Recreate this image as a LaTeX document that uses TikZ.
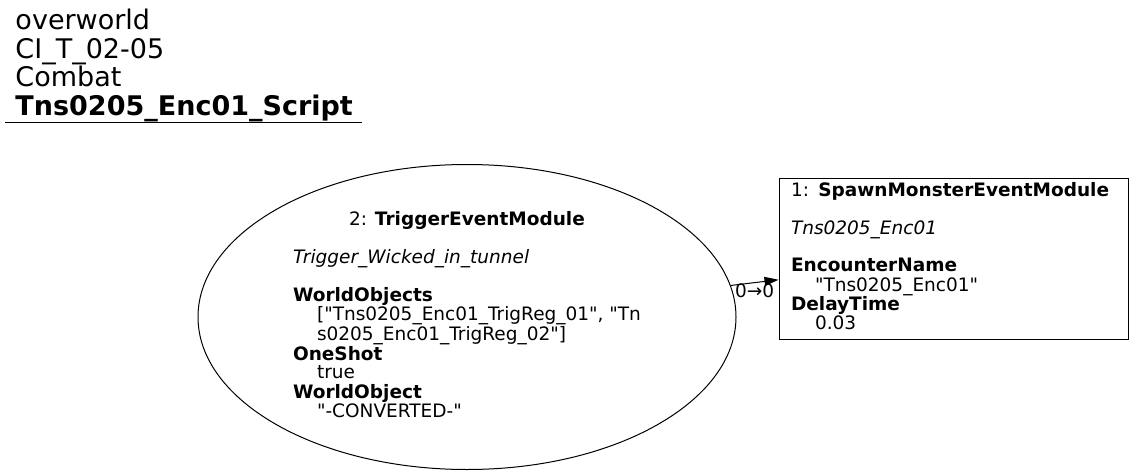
\documentclass[tikz,border=0pt]{standalone}
\usepackage{fontspec}
\setmainfont[Ligatures=TeXOff]{DejaVu Sans}
\usetikzlibrary{shapes.geometric,arrows.meta,positioning}

\newcommand{\bodyfont}{\fontsize{18.5}{18.5}\selectfont}
\newcommand{\headfont}{\fontsize{27}{27}\selectfont}
\newcommand{\ind}{\hspace*{24pt}}

\begin{document}
\begin{tikzpicture}[
    x=1pt, y=-1pt,
    line width=1pt,
    title/.style={anchor=base west, inner sep=0, font=\headfont},
    trigger/.style={ellipse, draw, minimum width=538pt, minimum height=305pt, inner sep=0, font=\bodyfont},
    spawner/.style={rectangle, draw, text width=325pt, inner xsep=12pt, inner ysep=0, minimum height=160pt, align=left, font=\bodyfont},
    lbl/.style={font=\bodyfont, inner sep=1pt},
    edge/.style={-{Triangle[length=14pt,width=9pt]}}
]
    \useasboundingbox (0,0) rectangle (1133,476);

    % Title
    \node[title] (head) at (15,30) {\begin{tabular}[t]{@{}l@{}}
        overworld\\
        CI\_T\_02-05\\
        Combat\\
        \textbf{Tns0205\_Enc01\_Script}
    \end{tabular}};
    \draw (5,123) -- (362,123);

    % Modules
    \node[trigger] (trig) at (467,317) {\begin{tabular}[t]{@{}l@{}}
        \multicolumn{1}{@{}c@{}}{2: \textbf{TriggerEventModule}}\\
        \\
        \textit{Trigger\_Wicked\_in\_tunnel}\\
        \\
        \textbf{WorldObjects}\\
        \ind["Tns0205\_Enc01\_TrigReg\_01", "Tn\\
        \ind s0205\_Enc01\_TrigReg\_02"]\\
        \textbf{OneShot}\\
        \ind true\\
        \textbf{WorldObject}\\
        \ind"-CONVERTED-"
    \end{tabular}};

    \node[spawner, right=42pt of trig, yshift=58pt] (spawn) {\begin{tabular}{@{}l@{}}
        1: \textbf{SpawnMonsterEventModule}\\
        \\
        \textit{Tns0205\_Enc01}\\
        \\
        \textbf{EncounterName}\\
        \ind"Tns0205\_Enc01"\\
        \textbf{DelayTime}\\
        \ind 0.03
    \end{tabular}};

    % Edges
    \draw[edge] (trig) -- node[lbl, midway, below] (port) {0→0} (spawn);
\end{tikzpicture}
\end{document}
